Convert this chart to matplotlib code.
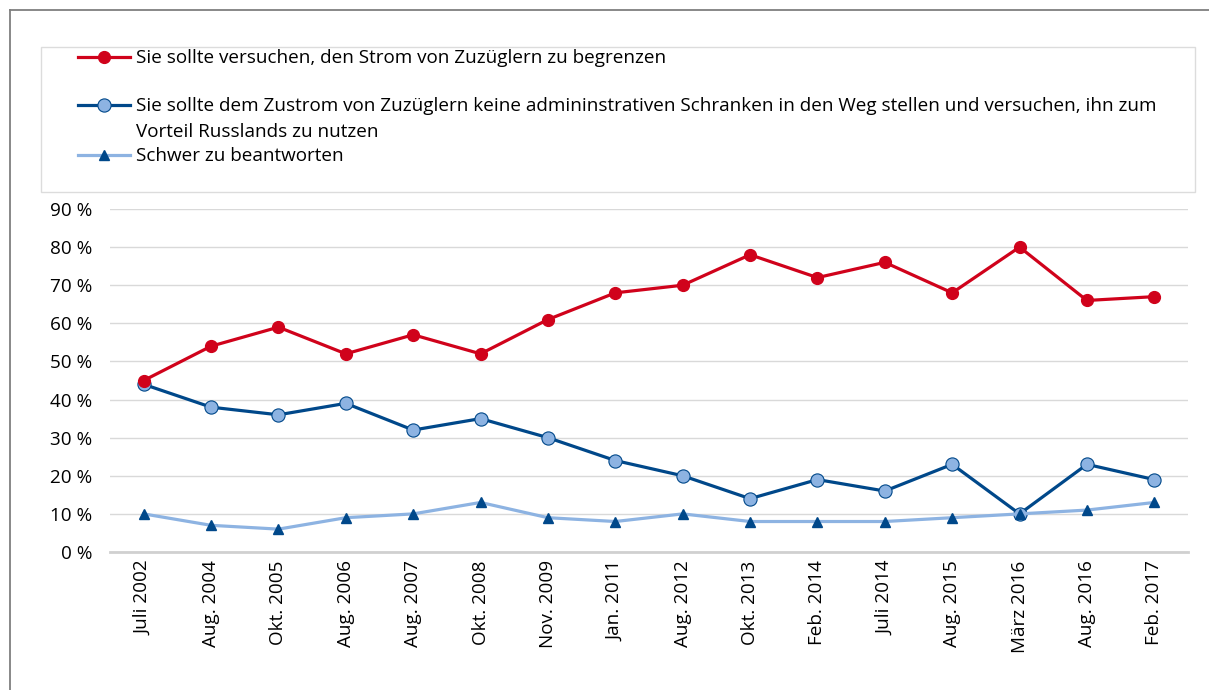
import numpy as np
import matplotlib.pyplot as plt
from matplotlib.lines import Line2D
from matplotlib.patches import Rectangle

plt.rcParams['font.family'] = ['Open Sans', 'DejaVu Sans']

dates = ['Juli 2002', 'Aug. 2004', 'Okt. 2005', 'Aug. 2006', 'Aug. 2007', 'Okt. 2008',
         'Nov. 2009', 'Jan. 2011', 'Aug. 2012', 'Okt. 2013', 'Feb. 2014', 'Juli 2014',
         'Aug. 2015', 'März 2016', 'Aug. 2016', 'Feb. 2017']
begrenzen = [45, 54, 59, 52, 57, 52, 61, 68, 70, 78, 72, 76, 68, 80, 66, 67]
keine_schranken = [44, 38, 36, 39, 32, 35, 30, 24, 20, 14, 19, 16, 23, 10, 23, 19]
schwer = [10, 7, 6, 9, 10, 13, 9, 8, 10, 8, 8, 8, 9, 10, 11, 13]

labels = [['Sie sollte versuchen, den Strom von Zuzüglern zu begrenzen'],
          ['Sie sollte dem Zustrom von Zuzüglern keine admininstrativen Schranken in den Weg stellen und versuchen, ihn zum',
           'Vorteil Russlands zu nutzen'],
          ['Schwer zu beantworten']]

red = '#d0021b'
dark = '#00488a'
light = '#8db3e2'
fs = 13.6

W, H = 1209, 690
fig = plt.figure(figsize=(W / 100, H / 100), dpi=100)
ax = fig.add_axes([110 / W, 1 - 552 / H, (1188 - 110) / W, (552 - 209) / H])

styles = [dict(color=red, marker='o', ms=8.5, mfc=red, mec=red),
          dict(color=dark, marker='o', ms=9.5, mfc=light, mec=dark, mew=0.8),
          dict(color=light, marker='^', ms=7, mfc=dark, mec=dark)]

x = np.arange(len(dates))
ax.plot(x, begrenzen, lw=2.3, zorder=4, **styles[0])
ax.plot(x, keine_schranken, lw=2.3, zorder=3, **styles[1])
ax.plot(x, schwer, lw=2.3, zorder=3, **styles[2])

ax.set_xlim(-0.5, len(dates) - 0.5)
ax.set_ylim(0, 90)
ax.set_yticks(range(0, 91, 10))
ax.set_yticklabels([f'{v} %' for v in range(0, 91, 10)], fontsize=fs)
ax.set_xticks(x)
ax.set_xticklabels(dates, rotation=90, fontsize=fs)
ax.tick_params(length=0)
ax.tick_params(axis='y', pad=12.5)
ax.tick_params(axis='x', pad=6)
ax.grid(axis='y', color='#d9d9d9', lw=1)
ax.set_axisbelow(True)
for s in ['top', 'right', 'left']:
    ax.spines[s].set_visible(False)
ax.spines['bottom'].set_color('#d0d0d0')
ax.spines['bottom'].set_linewidth(2)

# outer frame
fig.add_artist(Line2D([10 / W, 1], [1 - 10 / H] * 2, color='#7f7f7f', lw=1.3))
fig.add_artist(Line2D([10 / W] * 2, [0, 1 - 10 / H], color='#7f7f7f', lw=1.3))

# legend
fig.add_artist(Rectangle((41 / W, 1 - 192 / H), (1195 - 41) / W, (192 - 47) / H,
                         transform=fig.transFigure, fill=False, ec='#dcdcdc', lw=1))
ys = [57, 105, 155]
for st, lab, yy in zip(styles, labels, ys):
    line_st = {k: v for k, v in st.items() if k == 'color'}
    fig.add_artist(Line2D([78 / W, 130 / W], [1 - yy / H] * 2, lw=2.3, **line_st))
    fig.add_artist(Line2D([104 / W], [1 - yy / H], lw=0, **st))
    for i, t in enumerate(lab):
        fig.text(136 / W, 1 - (yy + 6 + 26 * i) / H, t, fontsize=fs, va='baseline', ha='left')

fig.savefig('out.png', dpi=100)
